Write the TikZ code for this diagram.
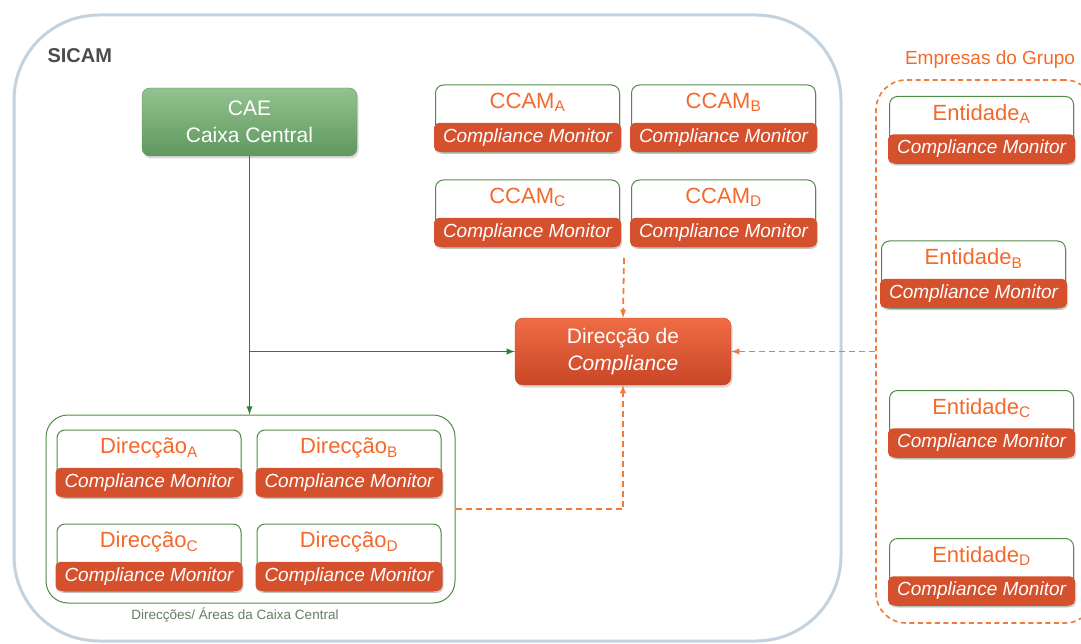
\documentclass[tikz,border=0pt]{standalone}
\usepackage{fontspec}
\setmainfont{Liberation Sans}
\usetikzlibrary{shadows}

\definecolor{sicamgray}{HTML}{C4D2DD}
\definecolor{linegreen}{HTML}{2E7D32}
\definecolor{boxgreen}{HTML}{4F8C45}
\definecolor{caetop}{HTML}{93C28F}
\definecolor{caebot}{HTML}{5F975F}
\definecolor{cmred}{HTML}{D5502D}
\definecolor{comptop}{HTML}{F06C45}
\definecolor{compbot}{HTML}{C94626}
\definecolor{ttlorange}{HTML}{F4692A}
\definecolor{dashorange}{HTML}{F07A38}
\definecolor{labelgreen}{HTML}{627D63}

\begin{document}
\begin{tikzpicture}[x=1pt,y=-1pt,
    monbox/.style={draw=boxgreen, line width=1pt, fill=white, rounded corners=8pt,
        minimum width=184pt, minimum height=67pt,
        drop shadow={opacity=0.25, shadow xshift=1pt, shadow yshift=-2pt}},
    montitle/.style={anchor=north, text=ttlorange, inner sep=2pt,
        font=\fontsize{22}{22}\selectfont},
    monband/.style={anchor=south, fill=cmred, rounded corners=5pt, minimum width=187pt,
        minimum height=29pt, inner sep=0pt, text=white,
        font=\itshape\fontsize{19}{19}\selectfont,
        drop shadow={opacity=0.3, shadow xshift=1pt, shadow yshift=-2pt}},
    bigbox/.style={rounded corners=8pt, text=white, align=center,
        font=\fontsize{21}{27}\selectfont,
        drop shadow={opacity=0.3, shadow xshift=1.5pt, shadow yshift=-2.5pt}},
    greenarrow/.style={draw=linegreen, line width=1.8pt, -latex},
    orangedash/.style={draw=dashorange, line width=1.8pt, dash pattern=on 6pt off 4pt, -latex}]

    % Picture frame
    \clip (0,0) rectangle (1081,644);

    % SICAM boundary
    \draw[sicamgray, line width=3pt, rounded corners=85pt] (14,15) rectangle (841,641);
    \node[anchor=west, text=black!70, font=\bfseries\fontsize{20}{20}\selectfont] (sicam) at (44,56) {SICAM};

    % Groups
    \node[draw=boxgreen, line width=1pt, rounded corners=22pt, minimum width=409pt,
        minimum height=188pt] (direccoes) at (250.5,509) {};
    \node[text=labelgreen, font=\fontsize{13.5}{14}\selectfont] (direccoeslbl) at (235,615)
        {Direcções/ Áreas da Caixa Central};
    \node[draw=dashorange, line width=1.6pt, dash pattern=on 5pt off 3.5pt, rounded corners=30pt,
        minimum width=219pt, minimum height=543pt] (empresas) at (985.5,351.5) {};
    \node[text=ttlorange, font=\fontsize{19}{19}\selectfont] (empresaslbl) at (990,60) {Empresas do Grupo};

    % Main boxes
    \node[bigbox, top color=caetop, bottom color=caebot, draw=caebot, minimum width=215pt,
        minimum height=68pt] (cae) at (249.5,122) {CAE\\Caixa Central};
    \node[bigbox, top color=comptop, bottom color=compbot, draw=compbot, minimum width=216pt,
        minimum height=67pt] (compliance) at (623,351.5) {Direcção de\\\textit{Compliance}};

    % Compliance Monitor boxes
    \foreach \nm/\x/\y/\ttl/\sb in {ccama/527.5/118.5/CCAM/A, ccamb/723.5/118.5/CCAM/B,
            ccamc/527.5/213.5/CCAM/C, ccamd/723.5/213.5/CCAM/D,
            dira/149/463.5/Direcção/A, dirb/349/463.5/Direcção/B,
            dirc/149/557.5/Direcção/C, dird/349/557.5/Direcção/D,
            enta/981.5/130/Entidade/A, entb/973.5/274.5/Entidade/B,
            entc/981.5/424/Entidade/C, entd/981.5/572/Entidade/D} {
        \node[monbox] (\nm) at (\x,\y) {};
        \node[montitle] (\nm-t) at ([yshift=-6pt]\nm.north) {\ttl\textsubscript{\sb}};
        \node[monband] (\nm-b) at ([yshift=0.5pt]\nm.south) {Compliance Monitor};
    }

    % Connectors
    \coordinate (branch) at (cae.south |- compliance.west);
    \coordinate (ccamin) at (624,258);
    \coordinate (dirturn) at (compliance.south |- direccoes.east);
    \draw[greenarrow] (cae.south) -- (cae.south |- direccoes.north);
    \draw[greenarrow] (branch) -- (compliance.west);
    \draw[orangedash] (ccamin) -- (compliance.north);
    \draw[orangedash] (direccoes.east) -- (dirturn) -- (compliance.south);
    \draw[orangedash] (empresas.west) -- (compliance.east);
\end{tikzpicture}
\end{document}
